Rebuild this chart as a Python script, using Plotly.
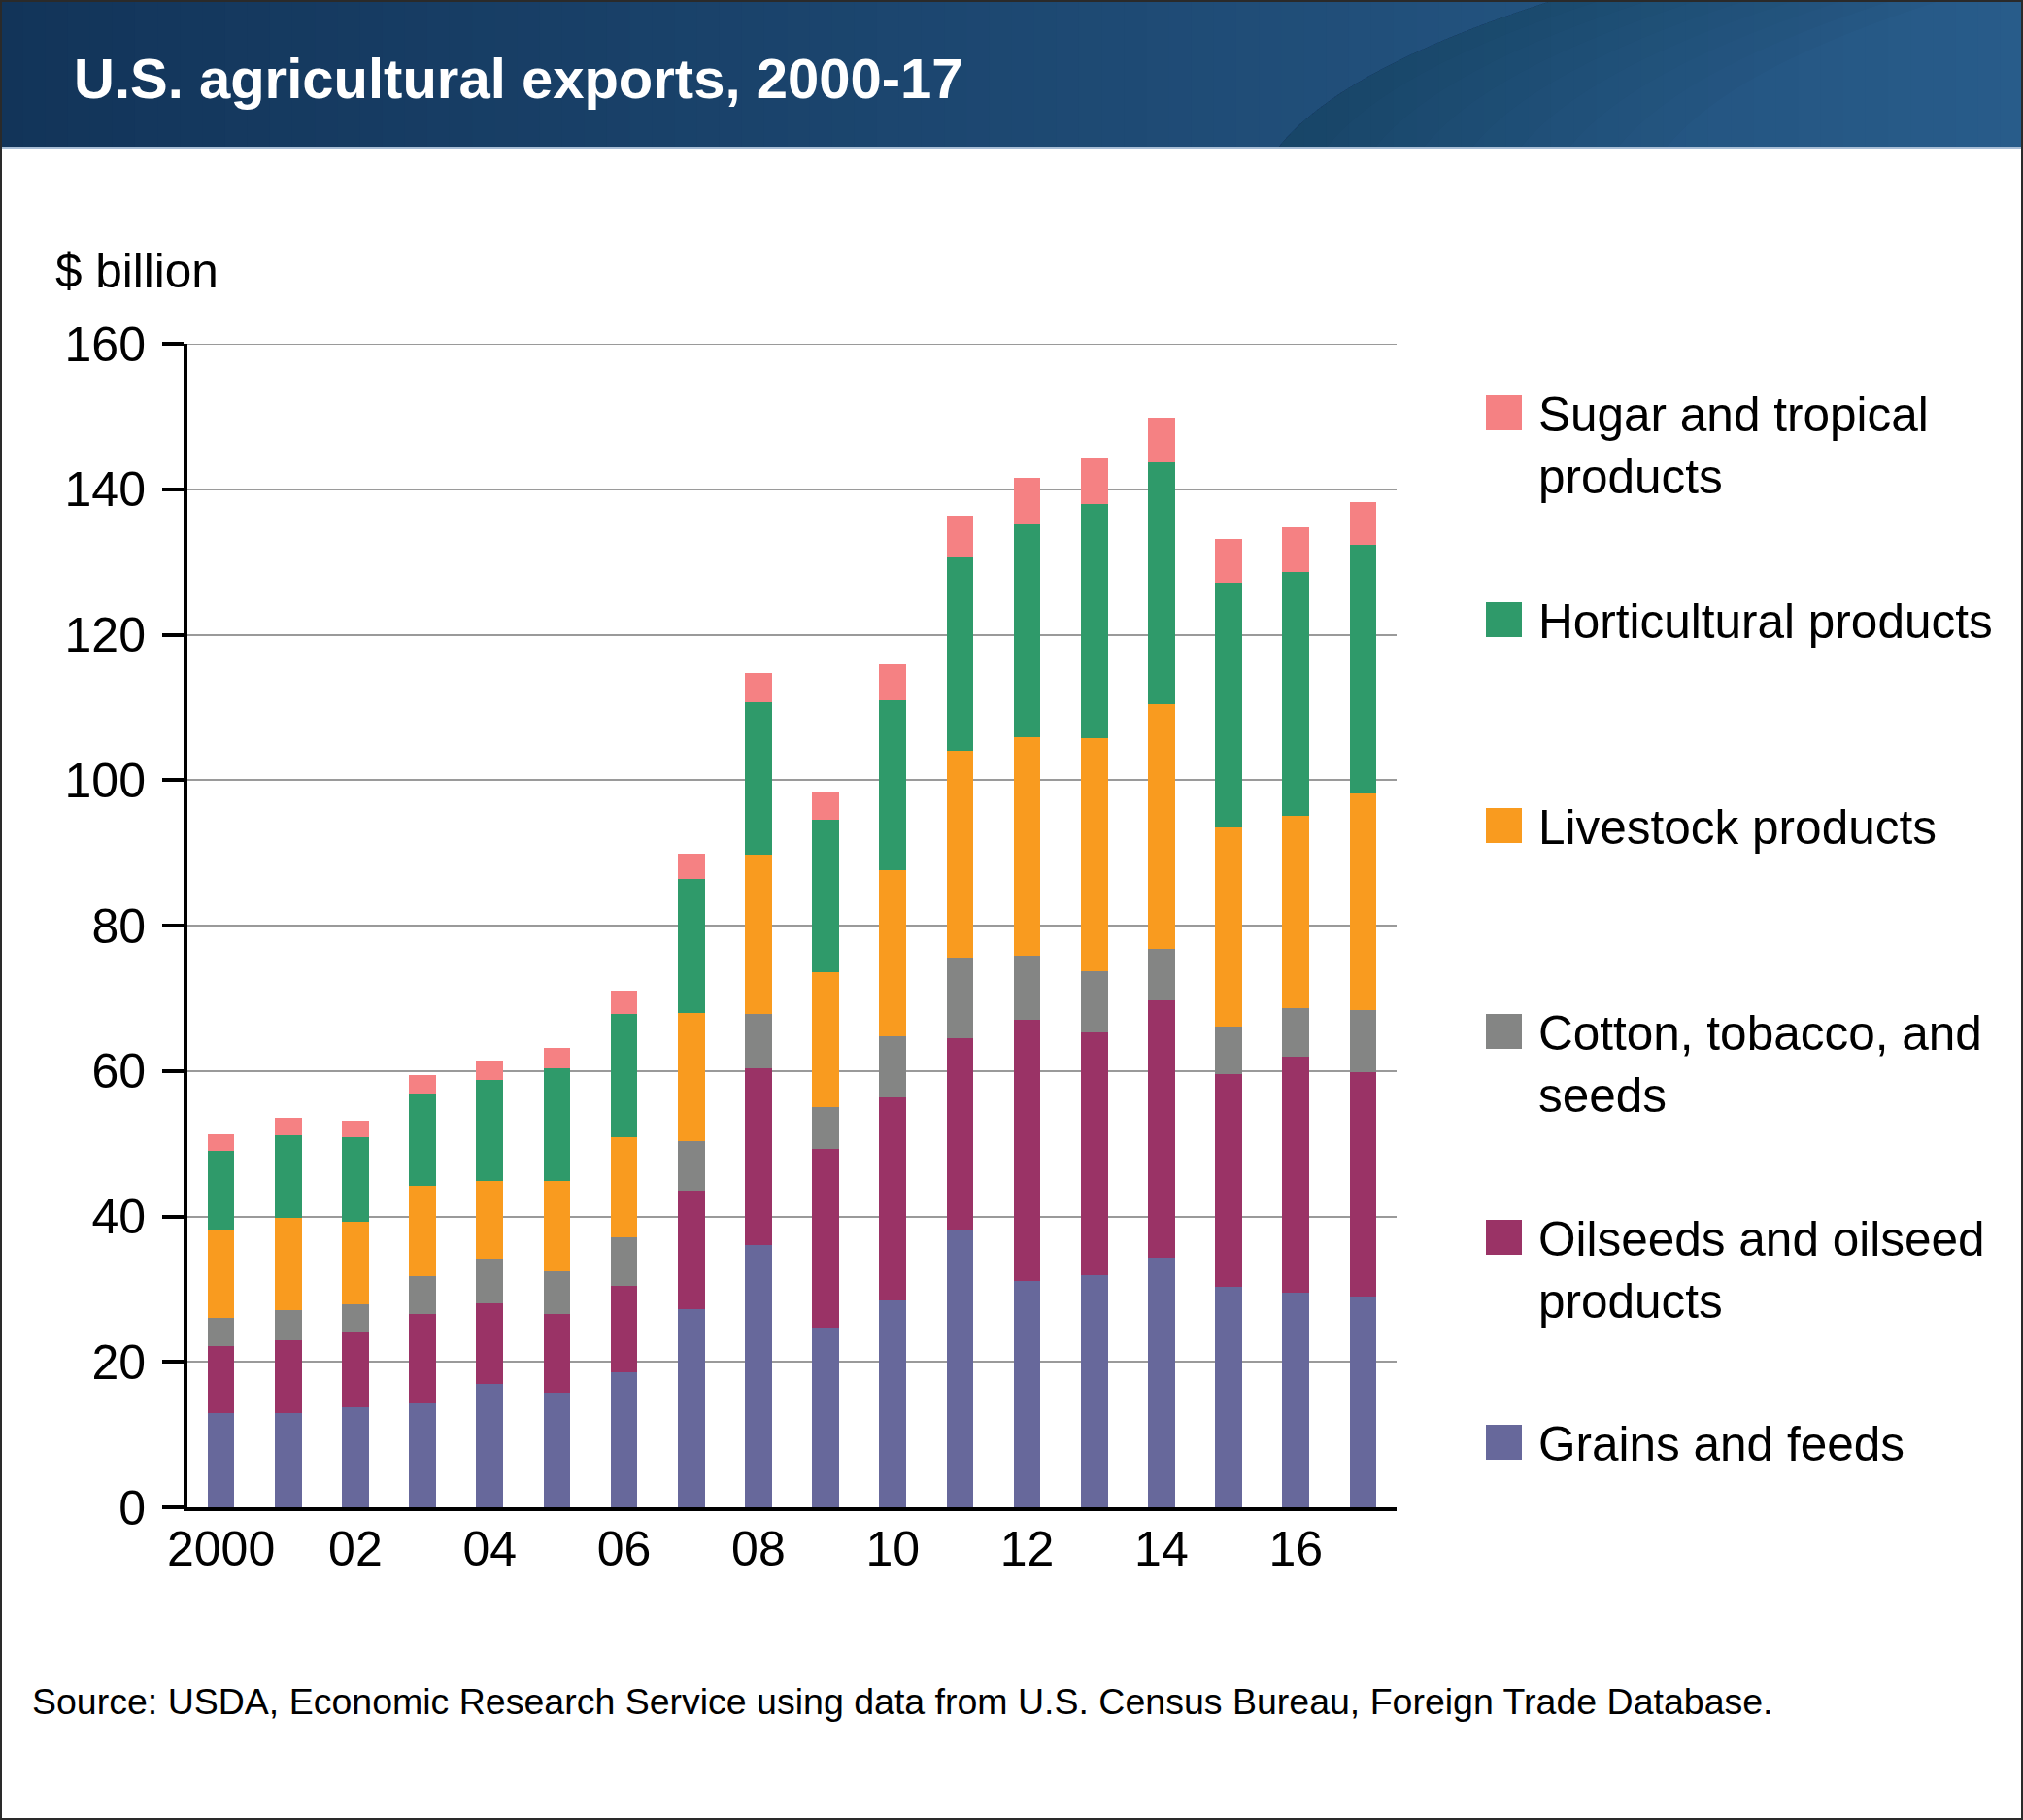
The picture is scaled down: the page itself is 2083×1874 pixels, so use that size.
import plotly.graph_objects as go

# ---------------- data ----------------
years = list(range(2000, 2018))
grains = [12.9, 13.0, 13.7, 14.3, 16.9, 15.8, 18.6, 27.3, 36.0, 24.7, 28.5, 38.0, 31.1, 31.9, 34.3, 30.3, 29.5, 29.0]
oilseeds = [9.3, 10.0, 10.3, 12.3, 11.2, 10.8, 11.8, 16.2, 24.4, 24.6, 27.8, 26.5, 36.0, 33.4, 35.4, 29.2, 32.5, 30.8]
cotton = [3.9, 4.1, 3.9, 5.2, 6.1, 5.9, 6.7, 6.8, 7.4, 5.7, 8.5, 11.1, 8.8, 8.4, 7.1, 6.6, 6.7, 8.6]
livestock = [11.9, 12.7, 11.4, 12.4, 10.7, 12.4, 13.8, 17.7, 21.9, 18.6, 22.8, 28.5, 30.0, 32.1, 33.7, 27.4, 26.4, 29.7]
horticultural = [11.0, 11.3, 11.6, 12.7, 13.9, 15.5, 16.9, 18.4, 21.0, 20.9, 23.4, 26.5, 29.3, 32.2, 33.2, 33.6, 33.5, 34.2]
sugar = [2.3, 2.5, 2.3, 2.5, 2.7, 2.8, 3.2, 3.5, 4.0, 3.9, 4.9, 5.8, 6.4, 6.3, 6.2, 6.0, 6.2, 5.9]

series_names = ["Grains and feeds", "Oilseeds and oilseed<br>products", "Cotton, tobacco, and<br>seeds",
                "Livestock products", "Horticultural products", "Sugar and tropical<br>products"]
series_values = [grains, oilseeds, cotton, livestock, horticultural, sugar]
series_colors = ["#67689B", "#9A3366", "#848584", "#F99B1F", "#2F9A6A", "#F58183"]

y_ticks = [0, 20, 40, 60, 80, 100, 120, 140, 160]
tick_years = [2000, 2002, 2004, 2006, 2008, 2010, 2012, 2014, 2016]
tick_labels = ["2000", "02", "04", "06", "08", "10", "12", "14", "16"]

title_text = "U.S. agricultural exports, 2000-17"
unit_text = "$ billion"
source_text = "Source: USDA, Economic Research Service using data from U.S. Census Bureau, Foreign Trade Database."

# ---------------- geometry ----------------
W, H = 2083, 1874
L, R, T, B = 193, 1438, 354, 1552
FONT = "Liberation Sans, Arial, Helvetica, sans-serif"


def px(xp):
    return (xp - L) / (R - L)


def py(yp):
    return (B - yp) / (B - T)


fig = go.Figure()
for name, vals, col in zip(series_names, series_values, series_colors):
    fig.add_trace(go.Bar(x=years, y=vals, name=name, width=0.4,
                         marker=dict(color=col, line=dict(width=0)),
                         showlegend=False))

shapes = []
# header gradient
N = 90
c0 = (18, 52, 89)
c1 = (40, 92, 138)
sw = W / N
for i in range(N):
    t = (i + 0.5) / N
    c = tuple(int(round(c0[k] + (c1[k] - c0[k]) * t)) for k in range(3))
    shapes.append(dict(type="rect", xref="paper", yref="paper", layer="below",
                       x0=px(i * sw), x1=px((i + 1) * sw + 1.5), y0=py(0), y1=py(152),
                       fillcolor="rgb(%d,%d,%d)" % c, line=dict(width=0)))


def pathstr(pts):
    s = ""
    for cmd, coords in pts:
        s += cmd + " " + " ".join("%.5f %.5f" % (px(a), py(b)) for a, b in coords) + " "
    return s + "Z"


# dark swoosh fading to the right
for k in range(1, 9):
    d = k * 50
    p = pathstr([("M", [(1315, 153)]), ("Q", [(1380, 70), (1600, 0)]),
                 ("L", [(1600 + d, 0)]), ("Q", [(1380 + d, 70), (1315 + d, 153)])])
    shapes.append(dict(type="path", xref="paper", yref="paper", layer="below", path=p,
                       fillcolor="rgba(5,25,50,0.022)", line=dict(width=0)))

# header bottom light line
shapes.append(dict(type="line", xref="paper", yref="paper", layer="below",
                   x0=px(0), x1=px(W), y0=py(152), y1=py(152),
                   line=dict(color="#A9BED6", width=2)))
# top gridline (plotly omits the gridline at the range edge)
shapes.append(dict(type="line", xref="paper", yref="y", layer="below",
                   x0=0, x1=1, y0=y_ticks[-1], y1=y_ticks[-1],
                   line=dict(color="#9A9A9A", width=2)))
# outer border
shapes.append(dict(type="rect", xref="paper", yref="paper", layer="above",
                   x0=px(1), x1=px(W - 1), y0=py(1), y1=py(H - 1),
                   line=dict(color="#2A2A2A", width=2), fillcolor="rgba(0,0,0,0)"))

annotations = []
annotations.append(dict(text="<b>" + title_text + "</b>", x=px(74), y=py(80), xref="paper", yref="paper",
                        xanchor="left", yanchor="middle", showarrow=False,
                        font=dict(family=FONT, size=58, color="white")))
annotations.append(dict(text=unit_text, x=px(55), y=py(278), xref="paper", yref="paper",
                        xanchor="left", yanchor="middle", showarrow=False,
                        font=dict(family=FONT, size=49.5, color="black")))
annotations.append(dict(text=source_text, x=px(31), y=py(1752), xref="paper", yref="paper",
                        xanchor="left", yanchor="middle", showarrow=False,
                        font=dict(family=FONT, size=37.5, color="black")))

# manual legend (top to bottom: reverse of stacking order)
leg_centers = [425, 638, 850, 1062, 1274, 1485]
for cy, name, col in zip(leg_centers, series_names[::-1], series_colors[::-1]):
    shapes.append(dict(type="rect", xref="paper", yref="paper",
                       x0=px(1530), x1=px(1567), y0=py(cy - 18), y1=py(cy + 18),
                       fillcolor=col, line=dict(width=0)))
    annotations.append(dict(text=name, x=px(1582), y=py(cy - 28), xref="paper", yref="paper",
                            xanchor="left", yanchor="top", align="left", showarrow=False,
                            font=dict(family=FONT, size=49.5, color="black")))

fig.update_layout(
    width=W, height=H,
    margin=dict(l=L, r=W - R, t=T, b=H - B, pad=0),
    paper_bgcolor="white", plot_bgcolor="rgba(0,0,0,0)",
    barmode="stack", bargap=0,
    font=dict(family=FONT, size=50, color="black"),
    shapes=shapes, annotations=annotations,
    xaxis=dict(range=[1999.5, 2017.5], tickvals=tick_years, ticktext=tick_labels,
               ticks="", ticklen=0, showgrid=False, showline=True, linecolor="black", linewidth=4,
               tickfont=dict(family=FONT, size=50, color="black"), ticklabelstandoff=-4,
               zeroline=False, fixedrange=True),
    yaxis=dict(range=[0, 160], tickvals=y_ticks,
               ticks="outside", ticklen=22, tickwidth=4,
               tickcolor="black", showline=True, linecolor="black", linewidth=4,
               showgrid=True, gridcolor="#9A9A9A", gridwidth=2, zeroline=False,
               tickfont=dict(family=FONT, size=50, color="black"), ticklabelstandoff=7,
               fixedrange=True),
)

fig.write_html("out.html", config={"displayModeBar": False},
               post_script="document.body.style.margin='0';document.body.style.overflow='hidden';")
